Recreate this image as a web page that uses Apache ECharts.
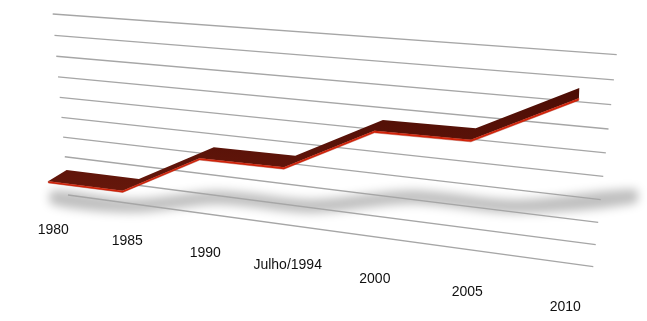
<!DOCTYPE html>
<html><head><meta charset="utf-8">
<script src="https://cdn.jsdelivr.net/npm/echarts@6/dist/echarts.min.js"></script>
<style>html,body{margin:0;padding:0;background:#fff}#c{width:647px;height:321px}</style>
</head><body><div id="c"></div>
<script>
// ---- data ----
const categories = ['1980', '1985', '1990', 'Julho/1994', '2000', '2005', '2010'];
const values = [0.55, 0.57, 2.70, 2.74, 4.89, 4.93, 7.10];
const gridValues = [0, 1, 2, 3, 4, 5, 6, 7, 8, 9];

// ---- layout / styling constants ----
const YMIN = -3, YMAX = 9;
const LABEL_VAL = -2.05;
const RED_HALF = 0.045;

function quadMap(P0, P1, P2, P3) {
  const dx1 = P1[0] - P2[0], dx2 = P3[0] - P2[0], dx3 = P0[0] - P1[0] + P2[0] - P3[0];
  const dy1 = P1[1] - P2[1], dy2 = P3[1] - P2[1], dy3 = P0[1] - P1[1] + P2[1] - P3[1];
  const det = dx1 * dy2 - dx2 * dy1;
  const g = (dx3 * dy2 - dx2 * dy3) / det, h = (dx1 * dy3 - dx3 * dy1) / det;
  const a = P1[0] - P0[0] + g * P1[0], b = P3[0] - P0[0] + h * P3[0], c = P0[0];
  const d = P1[1] - P0[1] + g * P1[1], e = P3[1] - P0[1] + h * P3[1], f = P0[1];
  return (u, v) => { const w = g * u + h * v + 1; return [(a * u + b * v + c) / w, (d * u + e * v + f) / w]; };
}
// back wall plane in perspective (bottom-left, bottom-right, top-right, top-left)
const wall = quadMap([68, 195], [593.3, 266.7], [616.7, 54.7], [52.7, 14]);

const PLANES = {
  wall:  { u0: 0, us: 1, v0: 0, vs: 1 / 9 },
  front: { u0: -0.0428, us: 0.9933, v0: 0, vs: 1 / 9 },
  back:  { u0: 0.00165, us: 0.94788, v0: 0.0876, vs: 0.9543 / 9 },
  label: { u0: -0.0414, us: 1.0033, v0: 0, vs: 1 / 9 }
};

function project(plane, pt, cs) {
  const t = (pt[0] - cs.x) / cs.width;
  const val = YMIN + (cs.y + cs.height - pt[1]) / cs.height * (YMAX - YMIN);
  return wall(plane.u0 + plane.us * t, plane.v0 + plane.vs * val);
}

const chart = echarts.init(document.getElementById('c'), null, { renderer: 'canvas' });

const seriesData = values.map((v, i) => [i, v]);

chart.setOption({
  animation: false,
  backgroundColor: '#ffffff',
  grid: { left: 100, top: 40, width: 440, height: 240 },
  xAxis: { type: 'category', data: categories, boundaryGap: false, show: false },
  yAxis: { type: 'value', min: YMIN, max: YMAX, show: false, splitLine: { show: false } },
  series: [
    { // floor shadow
      type: 'custom', clip: false, z: 1, data: seriesData,
      renderItem: function (params, api) {
        if (params.dataIndex !== 0) return null;
        const cs = params.coordSys;
        const cen = values.map((v, i) => {
          const F = project(PLANES.front, api.coord([i, v]), cs);
          return [52 + (F[0] - 48.3) * 1.10, 121.8 + 0.40 * F[1] + 0.06 * F[0]];
        });
        const OFF = 1000;
        const pts = cen.map(p => [p[0], p[1] - 7 - OFF]).concat(cen.slice().reverse().map(p => [p[0], p[1] + 7 - OFF]));
        return {
          type: 'polygon', shape: { points: pts, smooth: 0.3 },
          style: { fill: '#000', shadowBlur: 10, shadowColor: 'rgba(0,0,0,0.25)', shadowOffsetY: OFF }
        };
      }
    },
    { // grid lines on the back wall
      type: 'custom', clip: false, z: 2, data: gridValues.map(g => [0, g]),
      renderItem: function (params, api) {
        const cs = params.coordSys;
        const g = api.value(1);
        const p1 = project(PLANES.wall, api.coord([0, g]), cs);
        const p2 = project(PLANES.wall, api.coord([categories.length - 1, g]), cs);
        return {
          type: 'line', shape: { x1: p1[0], y1: p1[1], x2: p2[0], y2: p2[1] },
          style: { stroke: '#a6a6a6', lineWidth: 1.3 }
        };
      }
    },
    { // 3D ribbon line
      type: 'custom', clip: false, z: 3, data: seriesData,
      renderItem: function (params, api) {
        if (params.dataIndex !== 0) return null;
        const cs = params.coordSys;
        const fTop = [], fBot = [], back = [];
        values.forEach((v, i) => {
          fTop.push(project(PLANES.front, api.coord([i, v + RED_HALF]), cs));
          fBot.push(project(PLANES.front, api.coord([i, v - RED_HALF]), cs));
          back.push(project(PLANES.back, api.coord([i, v]), cs));
        });
        return {
          type: 'group',
          children: [
            { type: 'polygon', shape: { points: fTop.concat(back.slice().reverse()) },
              style: { fill: new echarts.graphic.LinearGradient(0, 0, 0, 1, [
                { offset: 0, color: '#4c0d05' }, { offset: 1, color: '#65170b' }]) } },
            { type: 'polygon', shape: { points: fTop.concat(fBot.slice().reverse()) },
              style: { fill: '#d8240a', stroke: '#9e1805', lineWidth: 0.4 } }
          ]
        };
      }
    },
    { // category labels
      type: 'custom', clip: false, z: 4, data: seriesData,
      renderItem: function (params, api) {
        const cs = params.coordSys;
        const i = api.value(0);
        const p = project(PLANES.label, api.coord([i, LABEL_VAL]), cs);
        return {
          type: 'text', x: p[0], y: p[1],
          style: { text: categories[i], fill: '#111', font: '14px "Liberation Sans", Arial, sans-serif',
                   align: 'center', verticalAlign: 'middle' }
        };
      }
    }
  ]
});
</script>
</body></html>
